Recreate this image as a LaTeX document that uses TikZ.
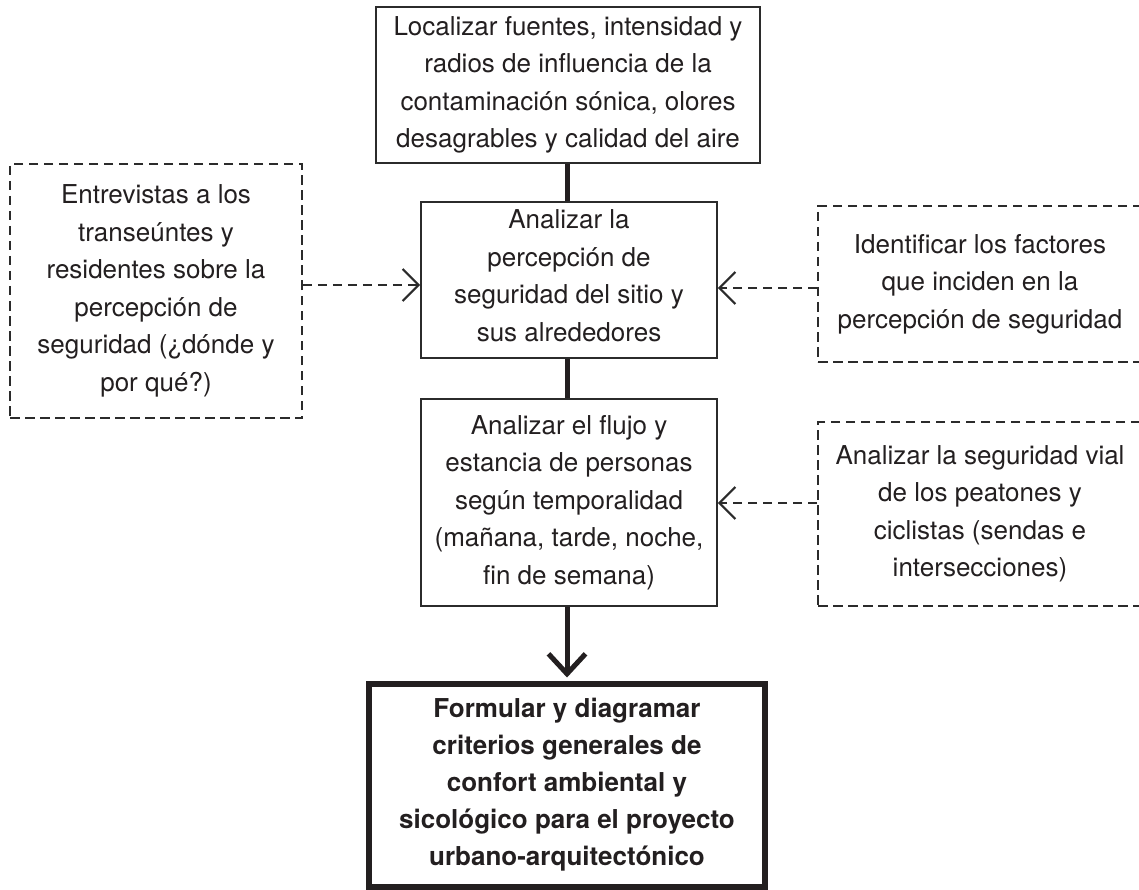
\documentclass[tikz,border=0pt]{standalone}
\usepackage{fontspec}
\setmainfont{TeX Gyre Heros}
\usetikzlibrary{arrows.meta,calc}
\definecolor{ink}{HTML}{231F20}
\definecolor{linec}{HTML}{2B2B2B}
\tikzset{
  txt/.style={font=\fontsize{26}{37.5}\selectfont, text=ink, align=center, inner sep=0pt},
  solidbox/.style={txt, draw=linec, line width=1.6pt, rectangle},
  dashbox/.style={txt, draw=linec, line width=1.7pt, dash pattern=on 9.5pt off 5.5pt, rectangle},
  finalbox/.style={txt, font=\fontsize{26}{37}\selectfont\bfseries, draw=ink, line width=6pt, rectangle},
  thickline/.style={draw=ink, line width=5pt},
  mainarrow/.style={draw=ink, line width=5pt, -{Straight Barb[length=20pt,width=37pt]}},
  dasharrow/.style={draw=linec, line width=1.7pt, dash pattern=on 9.5pt off 5.5pt, -{Straight Barb[length=16pt,width=32pt,line width=2.2pt]}}
}
\begin{document}
\begin{tikzpicture}[x=1pt,y=-1pt]
\useasboundingbox[fill=white] (0,0) rectangle (1139,890);
\begin{scope}
\clip (0,0) rectangle (1139,890);
\node[solidbox, minimum width=384pt, minimum height=156pt] (top) at (568,85)
  {Localizar fuentes, intensidad y\\radios de influencia de la\\contaminación sónica, olores\\desagrables y calidad del aire};
\node[solidbox, minimum width=296pt, minimum height=156pt] (mid1) at (569,280) {};
\node[txt] (mid1text) at (569,275.5)
  {Analizar la\\percepción de\\seguridad del sitio y\\sus alrededores};
\node[solidbox, minimum width=296pt, minimum height=207pt] (mid2) at (569,502.5)
  {Analizar el flujo y\\estancia de personas\\según temporalidad\\(mañana, tarde, noche,\\fin de semana)};
\node[dashbox, minimum width=292pt, minimum height=254pt] (left) at (156,291)
  {Entrevistas a los\\transeúntes y\\residentes sobre la\\percepción de\\seguridad (¿dónde y\\por qué?)};
\node[dashbox, minimum width=324pt, minimum height=156pt] (right1) at (980,284)
  {Identificar los factores\\que inciden en la\\percepción de seguridad};
\node[dashbox, minimum width=324pt, minimum height=184pt] (right2) at (980,514)
  {Analizar la seguridad vial\\de los peatones y\\ciclistas (sendas e\\intersecciones)};
\node[finalbox, minimum width=396pt, minimum height=203pt] (final) at (567,785)
  {Formular y diagramar\\criterios generales de\\confort ambiental y\\sicológico para el proyecto\\urbano-arquitectónico};
\coordinate (ya) at (0,285);
\coordinate (yb) at (0,288);
\coordinate (yc) at (0,503);
\coordinate (xm) at (567,0);
\draw[thickline] (top.south -| xm) -- (mid1.north -| xm);
\draw[thickline] (mid1.south -| xm) -- (mid2.north -| xm);
\draw[mainarrow] (mid2.south -| xm) -- ($(final.north -| xm)+(0,-3)$);
\draw[dasharrow] (left.east |- ya) -- (mid1.west |- ya);
\draw[dasharrow] (right1.west |- yb) -- (mid1.east |- yb);
\draw[dasharrow] (right2.west |- yc) -- (mid2.east |- yc);
\end{scope}
\end{tikzpicture}
\end{document}
